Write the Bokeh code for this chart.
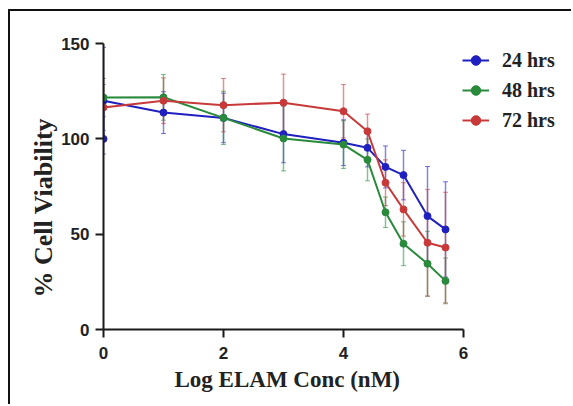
from bokeh.plotting import figure
from bokeh.models import ColumnDataSource, Whisker, TeeHead, Legend, LegendItem, Title
from bokeh.embed import file_html
from bokeh.resources import INLINE

# ---- data ----
x_vals = [0, 1, 2, 3, 4, 4.4, 4.7, 5, 5.4, 5.7]

x_24 = [0, 0, 1, 2, 3, 4, 4.4, 4.7, 5, 5.4, 5.7]
y_24 = [100, 120, 113.8, 111, 102.5, 98, 95.3, 85.3, 81, 59.5, 52.5]
sd_24 = [0, 28, 11, 13, 15, 12, 10, 11, 13, 26, 25]

y_48 = [121.7, 121.8, 111, 100.2, 97, 89, 61.5, 45, 34.5, 25.5]
sd_48 = [10, 12, 14, 17, 12.5, 11, 8, 11.5, 17, 12]

y_72 = [116.5, 120, 117.7, 119, 114.5, 104, 77, 63, 45.5, 43]
sd_72 = [12, 12, 14, 15, 14, 9, 12, 14, 28, 29]

labels = ["24 hrs", "48 hrs", "72 hrs"]
colors = ["#2020c0", "#2a8a3c", "#c83a3a"]

x_ticks = [0, 2, 4, 6]
y_ticks = [0, 50, 100, 150]

p = figure(width=563, height=395, x_range=(0, 7.6), y_range=(0, 160),
           output_backend="svg", toolbar_location=None,
           min_border_left=93, min_border_right=14, min_border_top=13, min_border_bottom=77)
p.styles = {"margin-left": "8px", "margin-top": "9px",
            "border-left": "2px solid #111111", "border-top": "2px solid #111111"}
p.outline_line_color = None
p.grid.visible = False
p.background_fill_color = "white"
p.border_fill_color = "white"

series = [(x_24, y_24, sd_24), (x_vals, y_48, sd_48), (x_vals, y_72, sd_72)]
items = []
for (xs, ys, sds), lab, col in zip(series, labels, colors):
    src = ColumnDataSource(dict(x=xs, y=ys,
                                lo=[a - b for a, b in zip(ys, sds)],
                                hi=[a + b for a, b in zip(ys, sds)]))
    w = Whisker(source=src, base="x", upper="hi", lower="lo",
                line_color=col, line_alpha=0.55, line_width=1.5,
                upper_head=TeeHead(size=5, line_color=col, line_alpha=0.6, line_width=1),
                lower_head=TeeHead(size=5, line_color=col, line_alpha=0.6, line_width=1))
    p.add_layout(w)
    lr = p.line("x", "y", source=src, line_color=col, line_width=2)
    sr = p.scatter("x", "y", source=src, size=7, fill_color=col, line_color=col)
    items.append(LegendItem(label=lab, renderers=[lr, sr]))

legend = Legend(items=items, location=(359, 197), border_line_color=None,
                background_fill_alpha=0, padding=0, margin=0, spacing=6,
                glyph_width=27, glyph_height=24, label_height=24, label_standoff=13,
                label_text_font="Liberation Serif", label_text_font_style="bold",
                label_text_font_size="20px", label_text_color="#222222")
p.add_layout(legend)

for ax in (p.xaxis, p.yaxis):
    ax.axis_line_width = 2
    ax.axis_line_color = "#1a1a1a"
    ax.major_tick_line_width = 2
    ax.major_tick_line_color = "#1a1a1a"
    ax.major_tick_out = 8
    ax.major_tick_in = 0
    ax.minor_tick_line_color = None
    ax.major_label_text_font = "Liberation Sans"
    ax.major_label_text_font_style = "bold"
    ax.major_label_text_font_size = "17px"
    ax.major_label_text_color = "#222222"

p.xaxis.ticker = x_ticks
p.yaxis.ticker = y_ticks
p.xaxis.bounds = (0, 6)
p.yaxis.bounds = (0, 150)
p.xaxis.major_label_standoff = 9
p.yaxis.major_label_standoff = 6

xtitle = Title(text="Log ELAM Conc (nM)", align="left", offset=71, standoff=7,
               text_font="Liberation Serif", text_font_style="bold",
               text_font_size="23px", text_color="#222222")
p.add_layout(xtitle, "below")

ytitle = Title(text="% Cell Viability", align="left", offset=32, standoff=1,
               text_font="Liberation Serif", text_font_style="bold",
               text_font_size="26px", text_color="#222222")
p.add_layout(ytitle, "left")

open("out.html", "w").write(file_html(p, INLINE))
